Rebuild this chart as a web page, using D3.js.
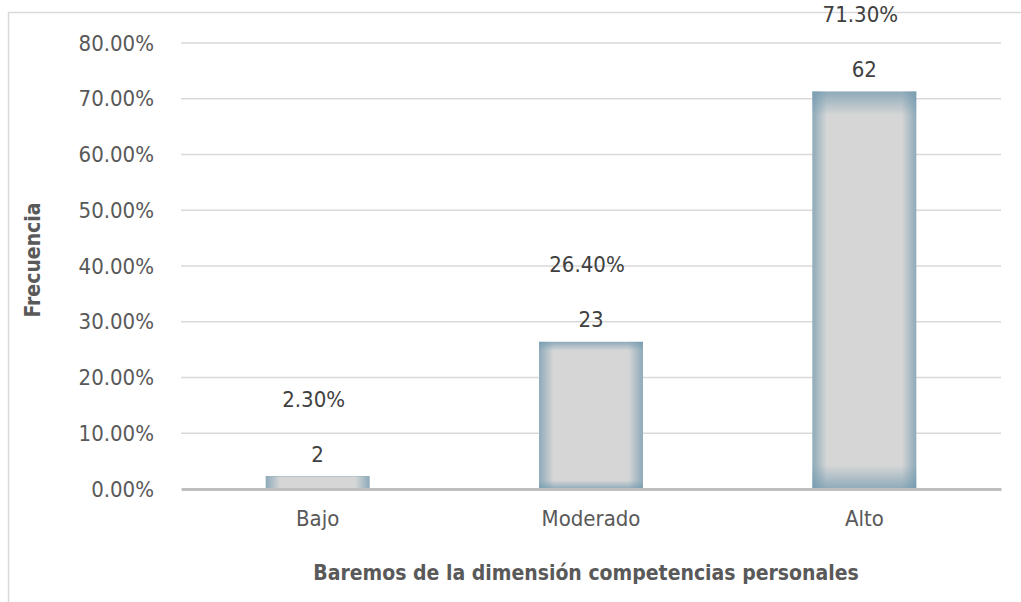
<!DOCTYPE html>
<html>
<head>
<meta charset="utf-8">
<script src="https://cdn.jsdelivr.net/npm/d3@7"></script>
<style>
  html, body { margin: 0; padding: 0; background: #fff; }
  svg { display: block; }
  text { font-family: "DejaVu Sans Condensed", "DejaVu Sans", sans-serif; font-stretch: condensed; }
</style>
</head>
<body>
<svg id="chart" width="1021" height="602"></svg>
<script>
const categories = ["Bajo", "Moderado", "Alto"];
const percents = [2.30, 26.40, 71.30];
const counts = [2, 23, 62];
const yTicks = [0, 10, 20, 30, 40, 50, 60, 70, 80];
const xTitle = "Baremos de la dimensión competencias personales";
const yTitle = "Frecuencia";

const svg = d3.select("#chart");
const W = 1021, H = 602;
const m = { left: 181, right: 20, top: 43, bottom: 113 };

const x = d3.scaleBand().domain(categories).range([m.left, W - m.right]).paddingInner(0.62).paddingOuter(0.31);
const y = d3.scaleLinear().domain([0, 80]).range([H - m.bottom, m.top]);

// outer frame
svg.append("path")
  .attr("d", `M8.5,${H} L8.5,12.5 L${W},12.5`)
  .attr("fill", "none").attr("stroke", "#d9d9d9").attr("stroke-width", 1.5);

// defs gradients
const defs = svg.append("defs");
const gh = defs.append("linearGradient").attr("id", "gh").attr("x1", 0).attr("x2", 1).attr("y1", 0).attr("y2", 0);
[[0, 0.7], [0.14, 0.0], [0.86, 0.0], [1, 0.7]].forEach(([o, a]) =>
  gh.append("stop").attr("offset", o).attr("stop-color", "#6e97ad").attr("stop-opacity", a));
const gv = defs.append("linearGradient").attr("id", "gv").attr("x1", 0).attr("x2", 0).attr("y1", 0).attr("y2", 1);
[[0, 0.7], [0.06, 0.0], [0.94, 0.0], [1, 0.7]].forEach(([o, a]) =>
  gv.append("stop").attr("offset", o).attr("stop-color", "#6e97ad").attr("stop-opacity", a));

// gridlines
svg.append("g").selectAll("line").data(yTicks.filter(d => d > 0)).join("line")
  .attr("x1", m.left).attr("x2", W - m.right)
  .attr("y1", d => y(d)).attr("y2", d => y(d))
  .attr("stroke", "#d9d9d9").attr("stroke-width", 1.5);

// y axis labels
const yAxis = d3.axisLeft(y).tickValues(yTicks).tickSize(0).tickPadding(0)
  .tickFormat(d => d3.format(".2f")(d) + "%");
const ga = svg.append("g").attr("transform", `translate(${m.left - 27},0)`).call(yAxis);
ga.select(".domain").remove();
ga.selectAll("text").attr("font-size", 22).attr("fill", "#595959")
  .style("font-family", '"DejaVu Sans Condensed", "DejaVu Sans", sans-serif');

// bars
const bars = svg.append("g").selectAll("g").data(categories).join("g");
["#d6d6d6", "url(#gh)", "url(#gv)"].forEach(f => {
  bars.append("rect")
    .attr("x", d => x(d)).attr("width", x.bandwidth())
    .attr("y", (d, i) => y(percents[i])).attr("height", (d, i) => y(0) - y(percents[i]))
    .attr("fill", f);
});

// x axis
const xAxis = d3.axisBottom(x).tickSize(0).tickPadding(21);
const gx = svg.append("g").attr("transform", `translate(0,${y(0)})`).call(xAxis);
gx.select(".domain").attr("stroke", "#bfbfbf").attr("stroke-width", 3);
gx.selectAll("text").attr("font-size", 22).attr("fill", "#595959")
  .style("font-family", '"DejaVu Sans Condensed", "DejaVu Sans", sans-serif');

// labels
const lab = svg.append("g");
lab.selectAll("text.cnt").data(categories).join("text").attr("class", "cnt")
  .attr("x", d => x(d) + x.bandwidth() / 2)
  .attr("y", (d, i) => y(percents[i]) - 22)
  .attr("text-anchor", "middle").attr("dominant-baseline", "central")
  .attr("font-size", 22).attr("fill", "#404040")
  .text((d, i) => counts[i]);
lab.selectAll("text.pct").data(categories).join("text").attr("class", "pct")
  .attr("x", d => x(d) + x.bandwidth() / 2 - 4)
  .attr("y", (d, i) => y(percents[i]) - 77)
  .attr("text-anchor", "middle").attr("dominant-baseline", "central")
  .attr("font-size", 22).attr("fill", "#404040")
  .text((d, i) => d3.format(".2f")(percents[i]) + "%");

// titles
svg.append("text").attr("x", (m.left + W - m.right) / 2 - 5).attr("y", 573)
  .attr("text-anchor", "middle").attr("dominant-baseline", "central")
  .attr("font-size", 21).attr("font-weight", "bold").attr("fill", "#595959")
  .text(xTitle);
svg.append("text").attr("transform", "translate(33,260) rotate(-90)")
  .attr("text-anchor", "middle").attr("dominant-baseline", "central")
  .attr("font-size", 21).attr("font-weight", "bold").attr("fill", "#595959")
  .text(yTitle);
</script>
</body>
</html>
